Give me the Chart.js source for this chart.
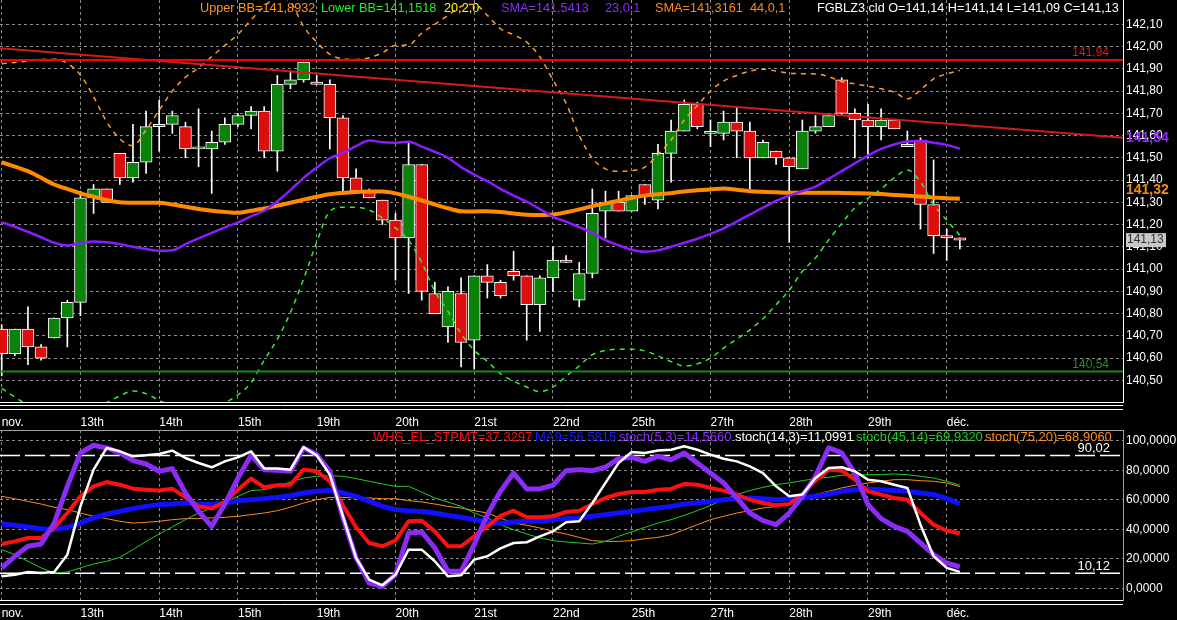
<!DOCTYPE html>
<html>
<head>
<meta charset="utf-8">
<script src="https://cdn.jsdelivr.net/npm/chart.js@4.4.1/dist/chart.umd.min.js"></script>
<style>
  html, body { margin: 0; padding: 0; background: #000; overflow: hidden; }
  #wrap { position: relative; width: 1177px; height: 620px; background: #000; }
  canvas { position: absolute; left: 0; }
  #price { top: 0; }
  #osc { top: 430px; }
</style>
</head>
<body>
<div id="wrap">
  <canvas id="price" width="1177" height="430"></canvas>
  <canvas id="osc" width="1177" height="190"></canvas>
</div>
<script>
// FGBL Z3 bars
const tickBars = [0, 6, 12, 18, 24, 30, 36, 42, 48, 54, 60, 66, 72];
const tickLabels = ['nov.', '13th', '14th', '15th', '19th', '20th', '21st', '22nd', '25th', '27th', '28th', '29th', 'déc.'];
const priceTicks = [140.5, 140.6, 140.7, 140.8, 140.9, 141.0, 141.1, 141.2, 141.3, 141.4, 141.5, 141.6, 141.7, 141.8, 141.9, 142.0, 142.1];
const oscTicks = [0, 10, 20, 30, 40, 50, 60, 70, 80, 90, 100];

const opens = [140.73,140.62,140.73,140.65,140.69,140.78,140.85,141.32,141.36,141.52,
  141.41,141.48,141.64,141.65,141.64,141.54,141.54,141.57,141.65,141.69,
  141.71,141.53,141.83,141.85,141.84,141.83,141.68,141.41,141.35,141.31,
  141.22,141.14,141.47,140.89,140.74,140.89,140.68,140.97,140.94,140.99,
  140.97,140.84,140.96,141.04,140.86,140.98,141.26,141.30,141.26,141.38,
  141.31,141.52,141.62,141.74,141.61,141.61,141.66,141.62,141.50,141.53,
  141.50,141.45,141.62,141.64,141.85,141.70,141.67,141.64,141.67,141.56,
  141.58,141.29,141.15,141.14];
const highs = [140.75,140.73,140.83,140.66,140.78,140.86,141.35,141.38,141.36,141.52,
  141.65,141.71,141.76,141.71,141.66,141.72,141.62,141.68,141.70,141.73,
  141.73,141.87,141.89,141.93,141.87,141.85,141.69,141.45,141.36,141.31,
  141.25,141.57,141.47,140.94,140.92,140.96,140.97,141.02,140.95,141.08,
  140.97,140.97,141.10,141.06,141.03,141.36,141.35,141.35,141.33,141.38,
  141.56,141.67,141.76,141.75,141.67,141.71,141.73,141.66,141.58,141.53,
  141.50,141.67,141.69,141.69,141.86,141.72,141.74,141.72,141.67,141.62,
  141.59,141.49,141.18,141.14];
const lows = [140.52,140.61,140.57,140.59,140.69,140.65,140.79,141.25,141.30,141.38,
  141.39,141.43,141.53,141.61,141.50,141.46,141.34,141.56,141.64,141.63,
  141.50,141.44,141.81,141.84,141.83,141.54,141.35,141.35,141.32,141.20,
  140.95,140.89,140.86,140.80,140.67,140.56,140.55,140.87,140.87,140.95,
  140.68,140.72,140.90,141.03,140.83,140.96,141.14,141.26,141.26,141.29,
  141.27,141.39,141.62,141.63,141.55,141.58,141.50,141.36,141.50,141.47,
  141.12,141.45,141.61,141.64,141.69,141.50,141.50,141.58,141.63,141.55,
  141.18,141.07,141.04,141.09];
const closes = [140.62,140.73,140.65,140.60,140.78,140.85,141.32,141.36,141.30,141.41,
  141.48,141.64,141.65,141.69,141.54,141.54,141.57,141.65,141.69,141.71,
  141.53,141.83,141.85,141.93,141.83,141.68,141.41,141.35,141.32,141.22,
  141.14,141.47,140.90,140.80,140.90,140.67,140.97,140.94,140.88,140.97,
  140.84,140.96,141.04,141.03,140.98,141.25,141.30,141.26,141.33,141.33,
  141.52,141.62,141.74,141.64,141.61,141.66,141.62,141.50,141.57,141.50,
  141.46,141.62,141.64,141.69,141.70,141.67,141.64,141.67,141.63,141.55,
  141.29,141.15,141.14,141.13];

const sma44 = [141.48,141.46,141.44,141.41,141.38,141.36,141.34,141.325,141.31,141.30,
  141.298,141.298,141.298,141.29,141.28,141.27,141.262,141.257,141.253,141.262,
  141.272,141.285,141.298,141.312,141.325,141.336,141.342,141.346,141.348,141.348,
  141.34,141.325,141.308,141.29,141.273,141.26,141.259,141.26,141.256,141.25,
  141.244,141.243,141.245,141.255,141.268,141.283,141.295,141.307,141.32,141.33,
  141.336,141.341,141.349,141.354,141.358,141.362,141.356,141.35,141.347,141.345,
  141.343,141.343,141.343,141.343,141.342,141.341,141.34,141.337,141.333,141.33,
  141.326,141.322,141.318,141.316];
const sma23 = [141.21,141.19,141.167,141.143,141.118,141.106,141.116,141.124,141.12,141.112,
  141.10,141.09,141.082,141.084,141.112,141.138,141.163,141.187,141.21,141.237,
  141.262,141.305,141.355,141.41,141.456,141.498,141.522,141.552,141.578,141.57,
  141.568,141.572,141.55,141.527,141.50,141.458,141.425,141.395,141.36,141.33,
  141.303,141.27,141.235,141.213,141.188,141.163,141.13,141.107,141.087,141.078,
  141.084,141.10,141.118,141.136,141.158,141.183,141.213,141.245,141.276,141.306,
  141.33,141.35,141.37,141.405,141.44,141.475,141.51,141.54,141.56,141.573,
  141.576,141.568,141.558,141.541];
const bbUpper = [141.923,141.928,141.935,141.942,141.943,141.925,141.872,141.775,141.662,141.585,
  141.555,141.625,141.714,141.80,141.862,141.905,141.955,142.005,142.055,142.12,
  142.18,142.22,142.20,142.09,142.02,141.965,141.945,141.942,141.95,141.972,
  142.005,142.007,142.06,142.10,142.14,142.18,142.19,142.14,142.08,142.053,
  142.02,141.954,141.85,141.745,141.60,141.498,141.45,141.44,141.443,141.458,
  141.515,141.58,141.67,141.735,141.80,141.845,141.87,141.89,141.898,141.89,
  141.88,141.878,141.877,141.865,141.842,141.832,141.822,141.81,141.795,141.765,
  141.805,141.855,141.877,141.893];
const bbLower = [140.464,140.425,140.39,140.37,140.36,140.36,140.37,140.385,140.40,140.43,
  140.452,140.44,140.41,140.385,140.375,140.375,140.385,140.40,140.435,140.49,
  140.59,140.685,140.805,140.955,141.12,141.26,141.278,141.278,141.265,141.23,
  141.185,141.13,141.03,140.90,140.81,140.71,140.635,140.585,140.53,140.496,
  140.47,140.449,140.47,140.518,140.565,140.615,140.634,140.64,140.64,140.632,
  140.61,140.584,140.564,140.574,140.60,140.645,140.685,140.727,140.777,140.84,
  140.905,140.99,141.05,141.13,141.205,141.275,141.318,141.36,141.41,141.445,
  141.392,141.29,141.22,141.152];

const trendX = [-0.13, 85.43];
const trendY = [141.992, 141.59];
const resistance = 141.94;
const support = 140.54;

const stpmt = [30.0,31.8,34.1,34.1,40.9,51.0,62.3,69.1,72.0,70.2,
  67.5,66.8,66.2,67.5,61.6,55.5,54.0,58.5,66.8,74.3,
  68.4,69.8,70.2,80.4,79.3,72.5,56.2,41.3,30.7,28.5,
  32.3,45.4,45.8,38.6,28.5,28.5,35.2,42.0,49.0,52.6,
  48.1,48.1,48.8,51.7,52.6,57.1,61.2,63.9,65.2,65.2,
  66.8,67.3,70.7,70.2,68.0,66.2,63.5,60.0,57.8,56.2,
  57.1,63.5,72.9,80.4,79.7,73.6,65.7,63.5,61.2,60.0,
  51.0,43.1,39.0,37.3];
const ma9 = [43.6,42.7,41.6,40.4,39.7,41.3,44.2,47.7,50.3,52.1,
  54.0,55.5,56.7,57.1,57.8,57.1,56.7,57.8,59.4,60.0,
  60.7,61.6,62.7,64.6,65.7,66.2,64.6,62.3,58.9,55.5,
  53.3,52.6,52.1,51.0,49.4,48.1,46.5,44.9,43.9,44.9,
  45.4,45.4,46.5,47.2,47.7,48.8,49.9,51.0,52.1,53.3,
  54.4,55.5,57.1,57.8,58.9,60.0,60.7,61.2,60.7,60.0,
  60.7,61.2,62.3,63.9,65.7,66.8,67.3,66.8,66.2,65.7,
  64.6,63.5,60.7,57.3];
const stoch53 = [13.8,21.7,28.5,30.0,44.2,69.1,91.7,96.9,95.1,91.7,
  86.5,84.2,79.3,81.1,64.6,52.2,42.0,57.1,74.7,90.1,
  80.4,79.9,79.3,95.1,90.6,79.3,47.7,20.6,3.6,1.3,
  9.3,37.5,38.2,27.3,11.5,11.5,29.6,49.9,65.7,78.1,
  67.3,67.3,69.8,79.7,80.4,79.7,82.0,87.8,88.7,86.0,
  89.4,87.1,91.7,84.9,78.1,71.4,61.2,51.0,45.8,43.1,
  51.0,62.3,75.9,95.1,91.7,78.1,56.7,47.2,42.0,38.6,
  30.7,22.8,17.1,14.6];
const stoch143 = [8.1,9.2,11.1,10.4,11.1,22.8,55.5,80.4,95.1,92.8,
  89.4,90.1,91.0,93.3,88.3,84.9,82.0,86.0,88.7,92.8,
  81.1,81.1,80.4,95.6,90.1,77.0,48.8,20.6,5.9,2.0,
  9.2,26.2,26.2,18.3,8.1,8.8,19.4,21.7,27.0,30.7,
  31.2,35.2,38.6,44.7,45.4,57.8,71.4,84.9,92.4,91.7,
  93.3,93.9,96.2,93.9,90.6,87.8,86.0,82.6,78.1,69.1,
  62.3,63.5,74.7,81.5,82.0,79.3,73.6,72.5,70.2,68.0,
  43.1,21.7,13.8,11.1];
const stoch4514 = [26.2,22.8,18.3,13.8,10.4,11.1,13.8,16.5,18.3,21.0,
  26.2,31.8,36.8,41.6,46.5,51.0,54.4,58.5,62.3,66.2,
  66.8,69.1,72.0,74.7,75.9,76.3,75.9,74.3,72.5,70.7,
  69.1,69.1,65.2,61.2,58.5,55.5,51.0,47.7,43.0,39.7,
  36.8,34.1,32.3,31.4,30.7,30.0,31.8,35.2,38.2,41.3,
  44.2,46.5,49.4,52.6,56.2,60.0,63.5,66.2,68.4,70.2,
  71.4,72.9,74.3,75.2,76.6,77.0,77.0,77.0,77.5,77.0,
  75.9,74.7,72.5,69.9];
const stoch7520 = [62.3,60.7,58.9,57.1,54.9,53.3,51.0,48.8,47.2,45.4,
  44.2,44.7,45.4,46.5,47.2,47.2,47.7,48.1,48.8,49.9,
  51.0,52.6,54.9,57.8,60.0,61.6,61.6,61.2,61.2,60.7,
  60.7,59.4,58.5,57.1,55.5,54.4,52.6,51.0,47.5,44.2,
  42.7,40.9,38.6,36.8,34.5,32.3,31.8,31.8,32.3,33.6,
  34.5,36.3,39.7,43.1,46.5,48.8,51.0,52.6,54.4,55.5,
  57.8,60.7,63.5,65.7,68.0,69.8,71.4,72.5,73.6,73.6,
  72.9,72.5,71.4,68.9];
const upperLevel = 90.02;
const lowerLevel = 10.12;

const FONT = '"Liberation Sans", Arial, sans-serif';
const X_MIN = -0.1295, X_MAX = 85.43;
const GREEN = '#0a820a', RED = '#dc0e0e';

const xy = arr => arr.map((v, i) => ({ x: i, y: v }));
const flat = v => [{ x: X_MIN, y: v }, { x: X_MAX, y: v }];
const comma = (v, d) => v.toFixed(d).replace('.', ',');

function xAxis(pad, h) {
  return {
    type: 'linear', min: X_MIN, max: X_MAX, offset: false,
    afterBuildTicks: s => { s.ticks = tickBars.map(v => ({ value: v })); },
    afterFit: s => { s.height = h; s.paddingLeft = 0; s.paddingRight = 0; },
    ticks: {
      color: '#fff', font: { family: FONT, size: 12 }, align: 'start', padding: pad,
      autoSkip: false, maxRotation: 0,
      callback: v => tickLabels[tickBars.indexOf(v)]
    },
    grid: { color: '#8c8c8c', drawTicks: false, offset: false },
    border: { display: true, color: '#fff', dash: [3, 3] }
  };
}

// ---- price panel ----
const priceText = {
  id: 'priceText',
  afterDraw(chart) {
    const { ctx, scales: { y } } = chart;
    const right = chart.chartArea.right;
    ctx.save();
    ctx.strokeStyle = '#fff';
    ctx.lineWidth = 1;
    [405.5, 409.5].forEach(yy => {
      ctx.beginPath(); ctx.moveTo(0, yy); ctx.lineTo(right, yy); ctx.stroke();
    });

    ctx.textBaseline = 'middle';
    ctx.font = '12.7px ' + FONT;
    const header = [
      { t: 'Upper BB=141,8932', c: '#ff9420', x: 200 },
      { t: 'Lower BB=141,1518', c: '#22ee22', x: 321 },
      { t: '20,2,0', c: '#ffff00', x: 444 },
      { t: 'SMA=141,5413', c: '#8a2cff', x: 501 },
      { t: '23,0,1', c: '#8a2cff', x: 605 },
      { t: 'SMA=141,3161', c: '#ff8a10', x: 655 },
      { t: '44,0,1', c: '#ff8a10', x: 750 },
      { t: 'FGBLZ3.cld O=141,14 H=141,14 L=141,09 C=141,13', c: '#ffffff', x: 817 }
    ];
    header.forEach(h => { ctx.fillStyle = h.c; ctx.fillText(h.t, h.x, 8); });

    ctx.font = '12px ' + FONT;
    ctx.textAlign = 'right';
    ctx.fillStyle = '#e01818';
    ctx.fillText(comma(resistance, 2), 1109, y.getPixelForValue(resistance) - 7);
    ctx.fillStyle = '#1f8f1f';
    ctx.fillText(comma(support, 2), 1109, y.getPixelForValue(support) - 7);

    ctx.textAlign = 'left';
    const last = closes[closes.length - 1];
    const by = y.getPixelForValue(last);
    ctx.fillStyle = '#c8c8c8';
    ctx.fillRect(right + 3, by - 7, 40, 14);
    ctx.fillStyle = '#333';
    ctx.fillText(comma(last, 2), right + 4, by);

    ctx.font = 'bold 14px ' + FONT;
    ctx.fillStyle = '#8a2cff';
    ctx.fillText(comma(sma23[sma23.length - 1], 2), right + 3, y.getPixelForValue(sma23[sma23.length - 1]) - 11);
    ctx.fillStyle = '#f08c10';
    ctx.fillText(comma(sma44[sma44.length - 1], 2), right + 3, y.getPixelForValue(sma44[sma44.length - 1]) - 9);
    ctx.restore();
  }
};

const bodyColors = opens.map((o, i) => closes[i] >= o ? GREEN : RED);

new Chart(document.getElementById('price'), {
  type: 'bar',
  data: {
    datasets: [
      { type: 'line', data: flat(resistance), borderColor: '#ff0000', borderWidth: 2, pointRadius: 0, order: 1 },
      { type: 'line', data: flat(support), borderColor: '#1a8a1a', borderWidth: 2, pointRadius: 0, order: 1 },
      { type: 'line', data: trendX.map((x, i) => ({ x, y: trendY[i] })), borderColor: '#d01c1c', borderWidth: 2, pointRadius: 0, order: 1 },
      { type: 'line', data: xy(bbUpper), borderColor: '#ff9a30', borderWidth: 1.5, borderDash: [5, 5], pointRadius: 0, cubicInterpolationMode: 'monotone', order: 2 },
      { type: 'line', data: xy(bbLower), borderColor: '#33ee33', borderWidth: 1.5, borderDash: [5, 5], pointRadius: 0, cubicInterpolationMode: 'monotone', order: 2 },
      { type: 'line', data: xy(sma23), borderColor: '#8a1cff', borderWidth: 2.5, pointRadius: 0, cubicInterpolationMode: 'monotone', order: 3 },
      { type: 'line', data: xy(sma44), borderColor: '#ff8a00', borderWidth: 4, pointRadius: 0, cubicInterpolationMode: 'monotone', order: 4 },
      {
        data: opens.map((o, i) => ({ x: i, y: [o, closes[i]] })),
        backgroundColor: bodyColors, borderColor: '#fff', borderWidth: 1, borderSkipped: false,
        barThickness: 12, minBarLength: 2, grouped: false, order: 5
      },
      {
        data: lows.map((l, i) => ({ x: i, y: [l, highs[i]] })),
        backgroundColor: '#fff', borderWidth: 0, barThickness: 1, grouped: false, order: 6
      }
    ]
  },
  options: {
    responsive: false, animation: false, events: [],
    layout: { padding: 0 },
    plugins: { legend: { display: false }, tooltip: { enabled: false } },
    scales: {
      x: xAxis(13, 28),
      y: {
        position: 'right', min: 140.4025, max: 142.2092,
        afterBuildTicks: s => { s.ticks = priceTicks.map(v => ({ value: v })); },
        afterFit: s => { s.width = 54; s.paddingTop = 0; s.paddingBottom = 0; },
        ticks: { color: '#fff', font: { family: FONT, size: 12 }, padding: 3, callback: v => comma(v, 2) },
        grid: { color: '#8c8c8c', drawTicks: false },
        border: { display: true, color: '#fff', dash: [3, 3] }
      }
    }
  },
  plugins: [priceText]
});

// ---- oscillator panel ----
const oscText = {
  id: 'oscText',
  afterDraw(chart) {
    const { ctx, scales: { y } } = chart;
    const right = chart.chartArea.right;
    ctx.save();
    ctx.lineWidth = 1;
    ctx.strokeStyle = '#a0a0a0';
    ctx.beginPath(); ctx.moveTo(0, 0.5); ctx.lineTo(right, 0.5); ctx.stroke();
    ctx.strokeStyle = '#fff';
    ctx.beginPath(); ctx.moveTo(0, 174.5); ctx.lineTo(right, 174.5); ctx.stroke();

    ctx.textBaseline = 'middle';
    ctx.font = '13px ' + FONT;
    const legend = [
      { t: 'WHS_EL_STPMT=37,3297', c: '#ff1010', x: 373 },
      { t: 'MA9=56,5815', c: '#1a1aff', x: 535 },
      { t: 'stoch(5,3)=14,5660', c: '#8a2cff', x: 619 },
      { t: 'stoch(14,3)=11,0991', c: '#ffffff', x: 735 },
      { t: 'stoch(45,14)=69,9320', c: '#22cc22', x: 856 },
      { t: 'stoch(75,20)=68,9060', c: '#ff8c1a', x: 985 }
    ];
    legend.forEach(l => { ctx.fillStyle = l.c; ctx.fillText(l.t, l.x, 7); });

    ctx.fillStyle = '#fff';
    ctx.textAlign = 'right';
    ctx.fillText(comma(upperLevel, 2), 1110, y.getPixelForValue(upperLevel) - 7);
    ctx.fillText(comma(lowerLevel, 2), 1110, y.getPixelForValue(lowerLevel) - 7);
    ctx.restore();
  }
};

const oscLine = (arr, color, w, order) => ({
  data: xy(arr), borderColor: color, borderWidth: w, pointRadius: 0,
  tension: 0, borderJoinStyle: 'round', order
});

new Chart(document.getElementById('osc'), {
  type: 'line',
  data: {
    datasets: [
      { data: flat(upperLevel), borderColor: '#fff', borderWidth: 1.5, borderDash: [20, 5], pointRadius: 0, order: 8 },
      { data: flat(lowerLevel), borderColor: '#fff', borderWidth: 1.5, borderDash: [20, 5], pointRadius: 0, order: 8 },
      oscLine(stoch7520, '#ff8c1a', 1, 7),
      oscLine(stoch4514, '#22cc22', 1, 6),
      oscLine(ma9, '#1010ff', 5, 5),
      oscLine(stpmt, '#ff1010', 4, 4),
      oscLine(stoch53, '#8a2cf6', 5, 3),
      oscLine(stoch143, '#ffffff', 2.5, 2)
    ]
  },
  options: {
    responsive: false, animation: false, events: [],
    layout: { padding: 0 },
    plugins: { legend: { display: false }, tooltip: { enabled: false } },
    scales: {
      x: xAxis(6, 20),
      y: {
        position: 'right', min: -7.93, max: 107.25,
        afterBuildTicks: s => { s.ticks = oscTicks.map(v => ({ value: v })); },
        afterFit: s => { s.width = 54; s.paddingTop = 0; s.paddingBottom = 0; },
        ticks: { color: '#fff', font: { family: FONT, size: 12 }, padding: 3, callback: v => comma(v, 4) },
        grid: { color: '#8c8c8c', drawTicks: false },
        border: { display: true, color: '#a0a0a0', dash: [3, 3] }
      }
    }
  },
  plugins: [oscText]
});
</script>
</body>
</html>
